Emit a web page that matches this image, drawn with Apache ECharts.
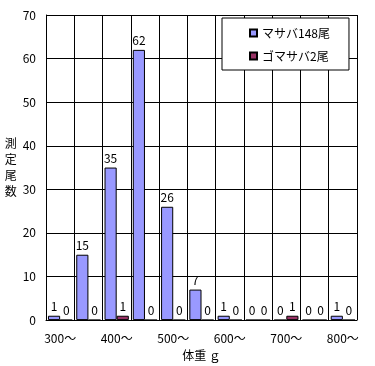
<!DOCTYPE html>
<html><head><meta charset="utf-8">
<script src="https://cdn.jsdelivr.net/npm/echarts@6/dist/echarts.min.js"></script>
<style>html,body{margin:0;padding:0;background:#fff}#c{width:375px;height:366px}</style>
</head><body><div id="c"></div>
<script>
const categories = ['300～','350～','400～','450～','500～','550～','600～','650～','700～','750～','800～'];
const masaba = [1,15,35,62,26,7,1,0,0,0,1];
const gomasaba = [0,0,1,0,0,0,0,0,1,0,0];
const seriesNames = ['マサバ148尾','ゴマサバ2尾'];
const yTicks = {min:0, max:70, interval:10};
const FONT = "'Noto Sans CJK JP', sans-serif";
const chart = echarts.init(document.getElementById('c'), null, {renderer:'canvas'});
const lbl = {show:true, position:'top', distance:3, color:'#000', fontSize:12, fontFamily:FONT};
chart.setOption({
  animation:false,
  backgroundColor:'#fff',
  grid:{left:46, right:18, top:15, bottom:45},
  legend:{
    data:seriesNames, orient:'vertical', left:222, top:18,
    backgroundColor:'#fff', borderColor:'#000', borderWidth:1,
    padding:[9,19,8,27], itemGap:11, itemWidth:7, itemHeight:7,
    icon:'rect', textStyle:{fontSize:12, fontFamily:FONT, color:'#000'}
  },
  xAxis:{
    type:'category', data:categories,
    name:'体重 ｇ', nameLocation:'middle', nameGap:25,
    nameTextStyle:{fontSize:12, fontFamily:FONT, color:'#000'},
    axisLine:{lineStyle:{color:'#000', width:1}},
    axisTick:{show:false},
    axisLabel:{interval:1, color:'#000', fontSize:12, fontFamily:FONT, margin:12},
    splitLine:{show:true, interval:0, lineStyle:{color:'#000', width:1}}
  },
  yAxis:{
    type:'value', min:yTicks.min, max:yTicks.max, interval:yTicks.interval,
    name:'測\n定\n尾\n数', nameLocation:'middle', nameRotate:0, nameGap:27,
    nameTextStyle:{fontSize:12, fontFamily:FONT, color:'#000', lineHeight:16},
    axisLine:{show:true, lineStyle:{color:'#000', width:1}},
    axisTick:{show:false},
    axisLabel:{color:'#000', fontSize:12, fontFamily:FONT, margin:10},
    splitLine:{show:true, lineStyle:{color:'#000', width:1}}
  },
  series:[
    {name:seriesNames[0], type:'bar', data:masaba, barGap:'0%', barCategoryGap:'14%',
     itemStyle:{color:'#9999FF', borderColor:'#000', borderWidth:1}, label:lbl},
    {name:seriesNames[1], type:'bar', data:gomasaba, barGap:'0%', barCategoryGap:'14%',
     itemStyle:{color:'#993366', borderColor:'#000', borderWidth:1}, label:lbl}
  ]
});
</script></body></html>
